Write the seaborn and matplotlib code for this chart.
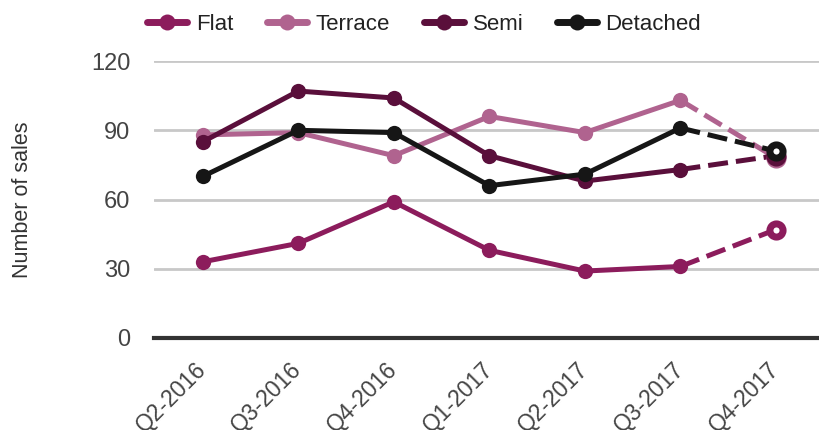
import numpy as np
import pandas as pd
import matplotlib
matplotlib.use("Agg")
import matplotlib.pyplot as plt
from matplotlib.lines import Line2D
import seaborn as sns

quarters = ["Q2-2016", "Q3-2016", "Q4-2016", "Q1-2017", "Q2-2017", "Q3-2017", "Q4-2017"]
flat = [33, 41, 59, 38, 29, 31, 47]
terrace = [88, 89, 79, 96, 89, 103, 78]
semi = [85, 107, 104, 79, 68, 73, 79]
detached = [70, 90, 89, 66, 71, 91, 81]

series = {"Flat": flat, "Terrace": terrace, "Semi": semi, "Detached": detached}
colours = {"Flat": "#8c1c5c", "Terrace": "#b0638f", "Semi": "#5a0f3b", "Detached": "#161616"}

sns.set_theme(style="whitegrid")
plt.rcParams['font.family'] = ['Liberation Sans', 'DejaVu Sans']

fig = plt.figure(figsize=(8.19, 4.30), dpi=100)
ax = fig.add_axes([0.188, 0.214, 0.812, 0.644])

pos = np.arange(len(quarters))
lw = 3.6
for name, vals in series.items():
    c = colours[name]
    # solid line for the first six quarters, dashed into the latest one
    sns.lineplot(x=pos[:6], y=vals[:6], ax=ax, color=c, lw=lw, marker="o",
                 markersize=11, markeredgewidth=0, zorder=3)
    ax.plot(pos[5:], vals[5:], color=c, lw=lw, dashes=(4, 1.6), zorder=2)
    ax.plot(pos[6:], vals[6:], color=c, lw=0, marker="o", markersize=9.5,
            markerfacecolor="white", markeredgecolor=c, markeredgewidth=5, zorder=4)

ax.set_xlim(-0.51, 6.45)
ax.set_ylim(0, 120)
ax.set_yticks([0, 30, 60, 90, 120])
ax.set_xticks(pos)
ax.set_xticklabels(quarters, rotation=45, ha="right", va="center", rotation_mode="anchor")
ax.tick_params(axis="y", labelsize=17, labelcolor="#444444", pad=17, length=0)
ax.tick_params(axis="x", labelsize=16.5, labelcolor="#444444", pad=20, length=0)
ax.grid(axis="x", visible=False)
ax.grid(axis="y", color="#c8c8c8", lw=2)
for s in ["top", "right", "left"]:
    ax.spines[s].set_visible(False)
ax.spines["bottom"].set_color("#333333")
ax.spines["bottom"].set_linewidth(3)
ax.set_xlabel("")
ax.set_ylabel("Number of sales", fontsize=15.5, color="#333333", labelpad=42)

handles = [Line2D([0], [0], color=colours[n], lw=5, marker="o", markersize=11.5, markeredgewidth=0)
           for n in series]
fig.legend(handles, list(series.keys()), loc="center", bbox_to_anchor=(0.518, 0.944),
           ncol=4, frameon=False, prop={'size': 16},
           handlelength=1.8, columnspacing=1.5, handletextpad=0.4, labelcolor="#222222")

fig.savefig("out.png", dpi=100)
